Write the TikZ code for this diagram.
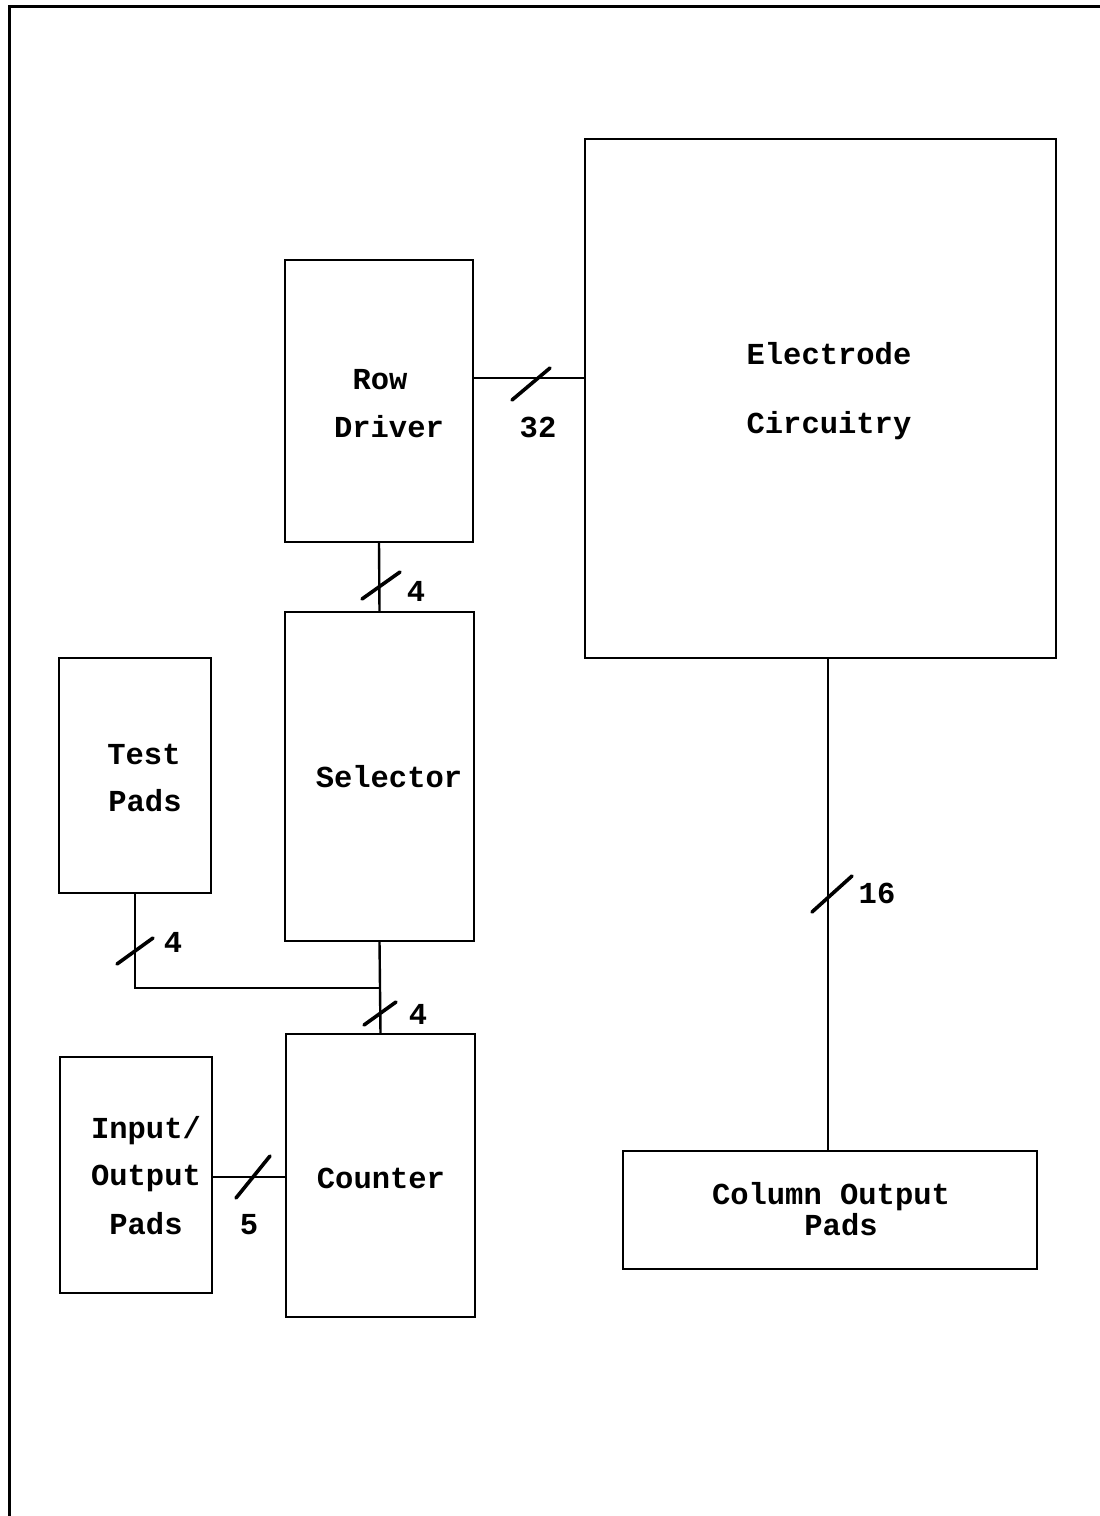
\documentclass[tikz,border=0pt]{standalone}
\usepackage{fontspec}
\setmainfont{Liberation Mono}
\usetikzlibrary{calc}
\tikzset{
  blk/.style={draw, line width=2.4pt, inner sep=0pt, outer sep=0pt, rectangle},
  wire/.style={line width=2.4pt},
  busslash/.style={line width=3.6pt, line cap=round},
  txt/.style={font=\fontsize{30.5}{36}\selectfont\bfseries, inner sep=0pt},
}
\begin{document}
\begin{tikzpicture}[x=1pt,y=-1pt]
\useasboundingbox (0,0) rectangle (1100,1516);
% frame
\draw[line width=3pt] (9,1516) -- (9,6) -- (1100,6);
% boxes
\node[blk, minimum width=188pt, minimum height=282pt] (rd) at (379,401) {};
\node[blk, minimum width=471pt, minimum height=519pt] (ec) at (820.5,398.5) {};
\node[blk, minimum width=189pt, minimum height=329pt] (sel) at (379.5,776.5) {};
\node[blk, minimum width=152pt, minimum height=235pt] (tp) at (135,775.5) {};
\node[blk, minimum width=189pt, minimum height=283pt] (cnt) at (380.5,1175.5) {};
\node[blk, minimum width=152pt, minimum height=236pt] (io) at (136,1175) {};
\node[blk, minimum width=414pt, minimum height=118pt] (cop) at (830,1210) {};
% texts
\node[txt] (t1) at (380,380) {Row};
\node[txt] (t2) at (389,427) {Driver};
\node[txt] (t3) at (829,354) {Electrode};
\node[txt] (t4) at (829,426) {Circuitry};
\node[txt] (t5) at (144,754) {Test};
\node[txt] (t6) at (145,801) {Pads};
\node[txt] (t7) at (389,777) {Selector};
\node[txt] (t8) at (146,1131) {Input/};
\node[txt] (t9) at (146,1178) {Output};
\node[txt] (t10) at (146,1224) {Pads};
\node[txt] (t11) at (381,1178) {Counter};
\node[txt] (t12) at (831,1197) {Column Output};
\node[txt] (t13) at (841,1225) {Pads};
% bus labels
\node[txt] (l32) at (538,427) {32};
\node[txt] (l4a) at (416,591) {4};
\node[txt] (l4b) at (173,942) {4};
\node[txt] (l4c) at (418,1014) {4};
\node[txt] (l5) at (249,1225) {5};
\node[txt] (l16) at (877,893) {16};
% connectors
\draw[wire] (rd.east |- 0,378) -- (ec.west |- 0,378);
\draw[wire] (rd.south) -- (sel.north);
\draw[wire] (sel.south) -- (cnt.north);
\coordinate (tj) at (sel.south |- 0,988);
\draw[wire] (tp.south) |- (tj);
\draw[wire] (io.east |- 0,1177) -- (cnt.west |- 0,1177);
\draw[wire] (ec.south -| 828,0) -- (cop.north -| 828,0);
% slashes
\coordinate (s32) at (538,378);
\draw[busslash] ($(s32)+(-26,22)$) -- ($(s32)+(12,-10)$);
\coordinate (s4a) at (379,587);
\draw[busslash] ($(s4a)+(-17,12)$) -- ($(s4a)+(21,-15)$);
\coordinate (s4b) at (135,951);
\draw[busslash] ($(s4b)+(-18,13)$) -- ($(s4b)+(18,-13)$);
\coordinate (s4c) at (380,1013);
\draw[busslash] ($(s4c)+(-16,12)$) -- ($(s4c)+(16,-11)$);
\coordinate (s5) at (253,1177);
\draw[busslash] ($(s5)+(-17,21)$) -- ($(s5)+(17,-21)$);
\coordinate (s16) at (828,898);
\draw[busslash] ($(s16)+(-16,14)$) -- ($(s16)+(24,-22)$);
\end{tikzpicture}
\end{document}
